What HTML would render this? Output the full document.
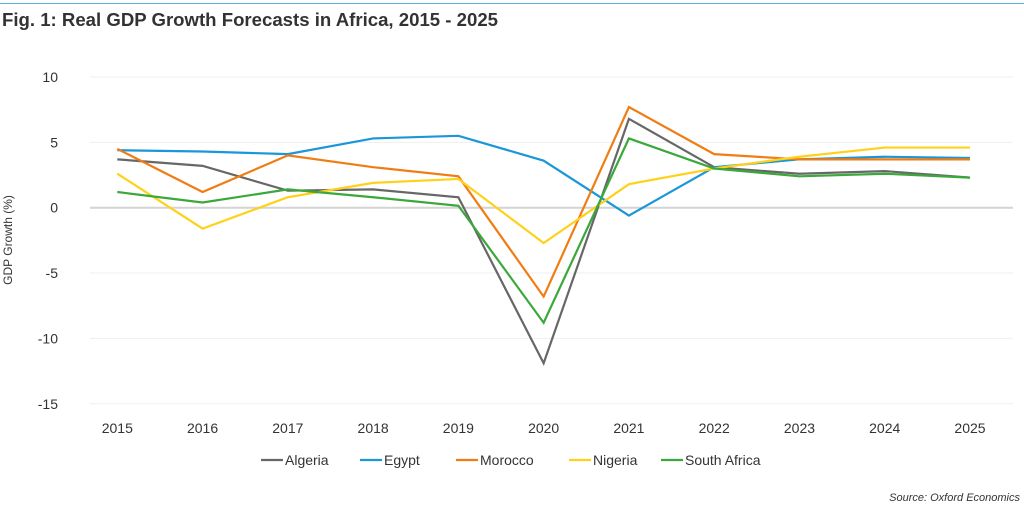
<!DOCTYPE html>
<html><head><meta charset="utf-8"><style>
body{margin:0;background:#fff;font-family:"Liberation Sans",sans-serif;}
svg{display:block}
</style></head><body>
<svg width="1024" height="512">
<line x1="0" y1="3.5" x2="1024" y2="3.5" stroke="#5fb3e3" stroke-width="1"/>
<text x="2" y="26" font-size="18.6" font-weight="bold" fill="#333">Fig. 1: Real GDP Growth Forecasts in Africa, 2015 - 2025</text>
<g id="grid"></g>
<g id="lines"></g>
<text transform="translate(12,240) rotate(-90)" text-anchor="middle" font-size="12" fill="#333">GDP Growth (%)</text>
<g id="legend"></g>
<text x="1020" y="501" text-anchor="end" font-size="11" font-style="italic" fill="#333">Source: Oxford Economics</text>
</svg>
<script>
const years=[2015,2016,2017,2018,2019,2020,2021,2022,2023,2024,2025];
const yTicks=[10,5,0,-5,-10,-15];
const seriesNames=["Algeria","Egypt","Morocco","Nigeria","South Africa"];
const seriesColors=["#676767","#1a96d9","#f07d14","#ffd11a","#3aa83a"];
const algeria=[3.7,3.2,1.3,1.4,0.8,-11.9,6.8,3.1,2.6,2.8,2.3];
const egypt=[4.4,4.3,4.1,5.3,5.5,3.6,-0.6,3.1,3.7,3.9,3.8];
const morocco=[4.5,1.2,4.0,3.1,2.4,-6.8,7.7,4.1,3.7,3.7,3.7];
const nigeria=[2.6,-1.6,0.8,1.9,2.2,-2.7,1.8,3.0,3.9,4.6,4.6];
const southAfrica=[1.2,0.4,1.4,0.8,0.15,-8.8,5.3,3.0,2.4,2.6,2.3];
const allSeries=[algeria,egypt,morocco,nigeria,southAfrica];
const NS="http://www.w3.org/2000/svg";
const x=i=>117.3+i*85.27;
const y=v=>207.7-v*13.07;
const grid=document.getElementById('grid');
yTicks.forEach(t=>{
  const l=document.createElementNS(NS,'line');
  
  
  l.setAttribute('x1',90);l.setAttribute('x2',1013);l.setAttribute('y1',y(t));l.setAttribute('y2',y(t));
  l.setAttribute('stroke',t===0?'#d4d4d4':'#efefef');l.setAttribute('stroke-width',t===0?2:1);
  grid.appendChild(l);
  const tx=document.createElementNS(NS,'text');
  
  
  tx.setAttribute('x',58);tx.setAttribute('y',y(t)+5);tx.setAttribute('text-anchor','end');
  tx.setAttribute('font-size','14');tx.setAttribute('fill','#333');tx.textContent=t;
  grid.appendChild(tx);
});
years.forEach((yr,i)=>{
  const tx=document.createElementNS(NS,'text');
  
  
  tx.setAttribute('x',x(i));tx.setAttribute('y',433);tx.setAttribute('text-anchor','middle');
  tx.setAttribute('font-size','14');tx.setAttribute('fill','#333');tx.textContent=yr;
  grid.appendChild(tx);
});
const lines=document.getElementById('lines');
allSeries.forEach((s,k)=>{
  const p=document.createElementNS(NS,'polyline');
  
  
  p.setAttribute('points',s.map((v,i)=>x(i)+','+y(v)).join(' '));
  p.setAttribute('fill','none');p.setAttribute('stroke',seriesColors[k]);p.setAttribute('stroke-width',2.2);
  lines.appendChild(p);
});
const legend=document.getElementById('legend');
const lx=[261,360,456,569,661];
seriesNames.forEach((n,k)=>{
  const g=document.createElementNS(NS,'g');
  
  
  const l=document.createElementNS(NS,'line');
  l.setAttribute('x1',lx[k]);l.setAttribute('x2',lx[k]+22);l.setAttribute('y1',460);l.setAttribute('y2',460);
  l.setAttribute('stroke',seriesColors[k]);l.setAttribute('stroke-width',2.2);
  const t=document.createElementNS(NS,'text');
  t.setAttribute('x',lx[k]+24);t.setAttribute('y',465);t.setAttribute('font-size','14');t.setAttribute('fill','#333');
  t.textContent=n;
  g.appendChild(l);g.appendChild(t);legend.appendChild(g);
});
</script>
</body></html>
